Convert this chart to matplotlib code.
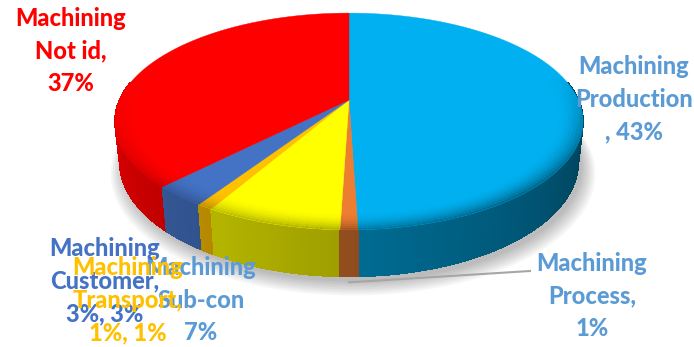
"""3D-look pie chart: machining categories (Excel style, perspective tilted disc)."""

import numpy as np
import matplotlib

matplotlib.use("Agg")
import matplotlib.pyplot as plt
from matplotlib.collections import PolyCollection
from matplotlib.colors import to_rgb

# --- data ---
CATEGORIES = ["Production", "Process", "Sub-con", "Transport", "Customer", "Not id"]
SHARES = [49.5, 1.0, 7.8, 0.9, 3.1, 37.7]  # slice sizes as drawn (clockwise from 12 o'clock)
LABELS = [
    "Machining\nProduction\n, 43%",
    "Machining\nProcess,\n1%",
    "Machining\nSub-con\n7%",
    "Machining\nTransport,\n1%, 1%",
    "Machining\nCustomer,\n3%, 3%",
    "Machining\nNot id,\n37%",
]
COLORS = ["#00B0F0", "#ED7D31", "#FFFF00", "#FFC000", "#4472C4", "#FF0000"]
TEXT_COLORS = ["#5B9BD5", "#5B9BD5", "#5B9BD5", "#FFC000", "#4472C4", "#FF0000"]
LABEL_POS = [(634, 99), (592, 296), (201, 300), (128, 300), (105, 281), (71, 51)]

# --- perspective disc geometry (pixels) ---
CX, CY = 349, 100
F, D = 1032.0, 4.5
E = np.radians(27)
H = 0.2

plt.rcParams["font.family"] = ["Lato", "DejaVu Sans"]


def proj(theta, r=1.0, z=0.0):
    X = r * np.sin(theta)
    Y = r * np.cos(theta)
    depth = D + Y * np.cos(E) - z * np.sin(E)
    return CX + F * X / depth, CY - F * (Y * np.sin(E) + z * np.cos(E)) / depth


def shade(theta):
    deg = np.degrees(theta)
    return 0.33 + (deg - 90) / 180 * 0.57


fig = plt.figure(figsize=(6.94, 3.47), dpi=100)
ax = fig.add_axes([0, 0, 1, 1])
ax.set_xlim(0, 694)
ax.set_ylim(347, 0)
ax.axis("off")

bounds = np.concatenate([[0], np.cumsum(SHARES)]) / sum(SHARES) * 2 * np.pi

# soft shadow under the disc
tt = np.linspace(0, 2 * np.pi, 200)
for k in range(8):
    sx, sy = proj(tt, 1.0 + 0.008 * k, -H - 0.01)
    ax.fill(sx + 4, sy + 3 + k * 0.6, color="black", alpha=0.035, lw=0, zorder=1)

# outer wall, back to front
quads, cols = [], []
step = np.radians(0.5)
for i, c in enumerate(COLORS):
    a0, a1 = bounds[i], bounds[i + 1]
    lo, hi = max(a0, np.radians(80)), min(a1, np.radians(280))
    if hi <= lo:
        continue
    n = max(2, int((hi - lo) / step) + 1)
    ts = np.linspace(lo, hi, n)
    base = np.array(to_rgb(c))
    for t0, t1 in zip(ts[:-1], ts[1:]):
        p = [proj(t0, 1, 0), proj(t1, 1, 0), proj(t1, 1, -H), proj(t0, 1, -H)]
        quads.append((np.cos(0.5 * (t0 + t1)), p))
        cols.append(np.clip(base * shade(0.5 * (t0 + t1)), 0, 1))
order = np.argsort([-q[0] for q in quads])
wall = PolyCollection([quads[j][1] for j in order], facecolors=[cols[j] for j in order],
                      edgecolors=[cols[j] for j in order], linewidths=0.6,
                      antialiaseds=False, zorder=2)
ax.add_collection(wall)

# top faces
for i, c in enumerate(COLORS):
    ts = np.linspace(bounds[i], bounds[i + 1], max(3, int((bounds[i + 1] - bounds[i]) / step)))
    sx, sy = proj(ts, 1, 0)
    ax.fill(np.r_[CX, sx], np.r_[CY, sy], color=c, lw=0.3, ec=c, zorder=3)

# bevel: darken the top face towards its front rim
bev, bcols = [], []
radii = np.linspace(0.9, 1.0, 9)
for i, c in enumerate(COLORS):
    ts = np.linspace(bounds[i], bounds[i + 1], max(3, int((bounds[i + 1] - bounds[i]) / np.radians(1))))
    base = np.array(to_rgb(c))
    for t0, t1 in zip(ts[:-1], ts[1:]):
        tm = 0.5 * (t0 + t1)
        k = np.clip(-np.cos(tm) + 0.25, 0, 1)
        if k <= 0:
            continue
        wc = np.clip(base * shade(np.clip(tm, np.pi / 2, 1.5 * np.pi)), 0, 1)
        for r0, r1 in zip(radii[:-1], radii[1:]):
            a = k * ((r1 - 0.9) / 0.1) ** 2 * 0.8
            bev.append([proj(t0, r0), proj(t1, r0), proj(t1, r1), proj(t0, r1)])
            bcols.append((*wc, a))
ax.add_collection(PolyCollection(bev, facecolors=bcols, edgecolors="none", zorder=4))

# leader line for the Process label
mid = 0.5 * (bounds[1] + bounds[2])
lx, ly = proj(mid, 1.0, -H)
ax.plot([lx, LABEL_POS[1][0] - 62], [ly + 6, LABEL_POS[1][1] - 25], color="#A6A6A6", lw=1.5, zorder=5)

# labels
for i in [0, 1, 2, 4, 3, 5]:
    x, y = LABEL_POS[i]
    ax.text(x, y, LABELS[i], color=TEXT_COLORS[i], fontsize=17, fontweight="black",
            ha="center", va="center", multialignment="center", linespacing=1.5, zorder=6)

fig.savefig("out.png", dpi=100, facecolor="white")
